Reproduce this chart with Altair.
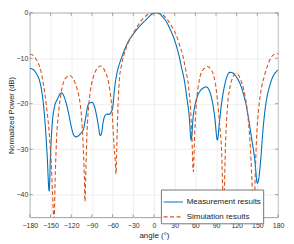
import altair as alt
import pandas as pd

# Measurement results (blue)
meas_angle = [-180, -175, -170, -166, -162, -158, -155, -152, -150, -147, -144, -140, -136, -134, -131,
              -128, -124, -120, -116, -113, -110, -106, -102, -99, -96, -93, -90, -87, -84, -81, -78,
              -76, -74, -71, -68, -64, -62, -60, -57, -54, -50, -46, -42, -36, -30, -24, -18, -12, -8,
              -4, 0, 4, 8, 12, 16, 20, 24, 28, 32, 36, 40, 44, 48, 51, 54, 57, 60, 64, 68, 72, 75, 78,
              81, 84, 88, 92, 95, 98, 102, 106, 110, 114, 118, 122, 126, 130, 134, 138, 142, 146, 150,
              152, 155, 158, 161, 164, 168, 172, 176, 180]
meas_db = [-12.2, -12.5, -13.5, -14.9, -18, -24, -31, -39.2, -31, -23.5, -20.5, -19, -17.8, -17.6, -18.2,
           -19.5, -22, -25, -27, -27.3, -27.1, -26.5, -25.5, -23, -20.5, -19.8, -19.7, -20.3, -22, -24.5, -27,
           -26.5, -24.3, -22.6, -22.3, -22.3, -21.8, -21, -16.5, -13.5, -11.2, -9.5, -7.9, -6.0, -4.7, -3.5, -2.5, -1.6, -1.0,
           -0.4, -0.1, 0, -0.2, -0.8, -1.5, -2.5, -3.8, -5.2, -7.0, -9.2, -12, -14.8, -19, -22.5, -28, -22.7, -20, -18, -17, -16.5, -16.3, -16.5,
           -17.4, -19, -22.7, -28, -24, -20, -16.3, -14, -13.1, -13.2, -13.8, -14.7, -16, -18, -20.5, -24, -28, -32, -37.5,
           -36.5, -32, -26, -21.5, -18.5, -16, -14.2, -13.2, -12.6]

# Simulation results (orange, dashed)
sim_angle = [-180, -176, -172, -168, -164, -160, -156, -152, -149, -147, -145, -143, -141, -138, -135, -131,
             -127, -122, -118, -115, -111, -108, -105, -103, -101, -100, -99, -97, -95, -92, -88, -84, -80,
             -77, -74, -71, -67, -64, -61, -58, -56, -55, -54, -52, -50, -47, -43, -39, -34, -28, -22, -16,
             -10, -4, 2, 8, 14, 20, 26, 32, 37, 42, 46, 50, 53, 55, 57, 59, 61, 64, 67, 71, 75, 78, 82, 86,
             89, 92, 95, 98, 101, 104, 107, 110, 114, 118, 122, 126, 130, 134, 137, 140, 143, 145, 147, 149,
             152, 156, 160, 165, 170, 175, 180]
sim_db = [-9.1, -9.3, -10, -11, -12.8, -16, -20.5, -26.2, -33, -40, -46, -35, -27, -21.5, -18, -15.2,
          -14.2, -13.8, -14.3, -15.2, -17, -19, -23, -28, -36, -41.5, -36, -26, -21, -17, -14.2, -12.6, -11.9,
          -11.7, -12, -12.9, -14.5, -17, -21, -29, -33, -35.5, -30, -20, -14.5, -11.5, -9.0, -7.2, -5.6, -4.0, -2.5, -1.3,
          -0.5, -0.1, 0, -0.1, -0.6, -1.6, -3.0, -4.8, -7.0, -9.5, -12.5, -16, -21, -27, -35, -27, -21, -16.5, -14, -12.6, -12, -11.8, -12.3, -13.5,
          -15.5, -19, -24, -30, -43, -28, -20, -16.5, -14.3, -13.4, -13.6, -14.8, -16.8, -20, -24, -30, -40, -46, -35, -27,
          -21, -16.5, -14, -11.5, -9.8, -9.1, -9.0]

x_ticks = [-180, -150, -120, -90, -60, -30, 0, 30, 60, 90, 120, 150, 180]
y_ticks = [-40, -30, -20, -10, 0]
series_names = ["Measurement results", "Simulation results"]

df = pd.concat([
    pd.DataFrame({"angle": meas_angle, "dB": meas_db, "series": series_names[0], "order": range(len(meas_angle))}),
    pd.DataFrame({"angle": sim_angle, "dB": sim_db, "series": series_names[1], "order": range(len(sim_angle))}),
])

xs = alt.Scale(domain=[-180, 180], nice=False, zero=False)
ys = alt.Scale(domain=[-45, 0], nice=False, zero=False)
x_axis = alt.Axis(values=x_ticks, title="angle (°)", labelFontSize=7, titleFontSize=8,
                  labelPadding=4, titlePadding=3, titleFontWeight="normal",
                  labelOverlap=False, labelFlush=False)
y_axis = alt.Axis(values=y_ticks, title="Normalized Power (dB)", labelFontSize=7,
                  titleFontSize=7.5, labelPadding=2, titlePadding=1, titleFontWeight="normal",
                  labelOverlap=False, labelFlush=False)

lines = alt.Chart(df).mark_line(strokeWidth=1.1, clip=True, interpolate="monotone").encode(
    x=alt.X("angle:Q", scale=xs, axis=x_axis, title="angle (°)"),
    y=alt.Y("dB:Q", scale=ys, axis=y_axis, title="Normalized Power (dB)"),
    color=alt.Color("series:N", scale=alt.Scale(domain=series_names, range=["#0072BD", "#D95319"]),
                    legend=alt.Legend(title=None)),
    strokeDash=alt.StrokeDash("series:N", scale=alt.Scale(domain=series_names, range=[[1, 0], [4, 2.5]]),
                              legend=alt.Legend(title=None)),
    order="order:Q",
)

xt = pd.DataFrame({"angle": x_ticks})
yt = pd.DataFrame({"dB": y_ticks})
tick_style = dict(color="#777", strokeWidth=0.7)
xtick_bot = alt.Chart(xt).mark_rule(**tick_style).encode(
    x=alt.X("angle:Q", scale=xs, axis=x_axis, title="angle (°)"),
    y=alt.YDatum(-45, scale=ys, axis=y_axis, title="Normalized Power (dB)"), y2=alt.Y2Datum(-44.35))
xtick_top = alt.Chart(xt).mark_rule(**tick_style).encode(
    x=alt.X("angle:Q", scale=xs, axis=x_axis, title="angle (°)"),
    y=alt.YDatum(0, scale=ys, axis=y_axis, title="Normalized Power (dB)"), y2=alt.Y2Datum(-0.65))
ytick_l = alt.Chart(yt).mark_rule(**tick_style).encode(
    y=alt.Y("dB:Q", scale=ys, axis=y_axis, title="Normalized Power (dB)"),
    x=alt.XDatum(-180, scale=xs, axis=x_axis, title="angle (°)"), x2=alt.X2Datum(-175.8))
ytick_r = alt.Chart(yt).mark_rule(**tick_style).encode(
    y=alt.Y("dB:Q", scale=ys, axis=y_axis, title="Normalized Power (dB)"),
    x=alt.XDatum(180, scale=xs, axis=x_axis, title="angle (°)"), x2=alt.X2Datum(175.8))

chart = alt.layer(lines, xtick_bot, xtick_top, ytick_l, ytick_r).properties(
    width=250, height=206, autosize=alt.AutoSizeParams(type="none"),
    padding={"left": 22, "top": 4, "right": 8, "bottom": 24},
).configure_view(stroke="#888", strokeWidth=0.8).configure_axis(
    grid=True, gridColor="#e3e3e3", gridWidth=0.6, domain=False, ticks=False,
    labelFont="Liberation Sans", titleFont="Liberation Sans", labelColor="#333", titleColor="#222",
).configure_legend(
    orient="none", legendX=132, legendY=178, fillColor="white", strokeColor="#777", padding=2,
    labelFont="Liberation Sans", labelFontSize=8, labelColor="#222", symbolType="stroke",
    symbolSize=380, symbolStrokeWidth=1.1, rowPadding=-2, labelOffset=3, labelLimit=200,
)

chart.save("out.html", embed_options={"renderer": "svg", "actions": False})
